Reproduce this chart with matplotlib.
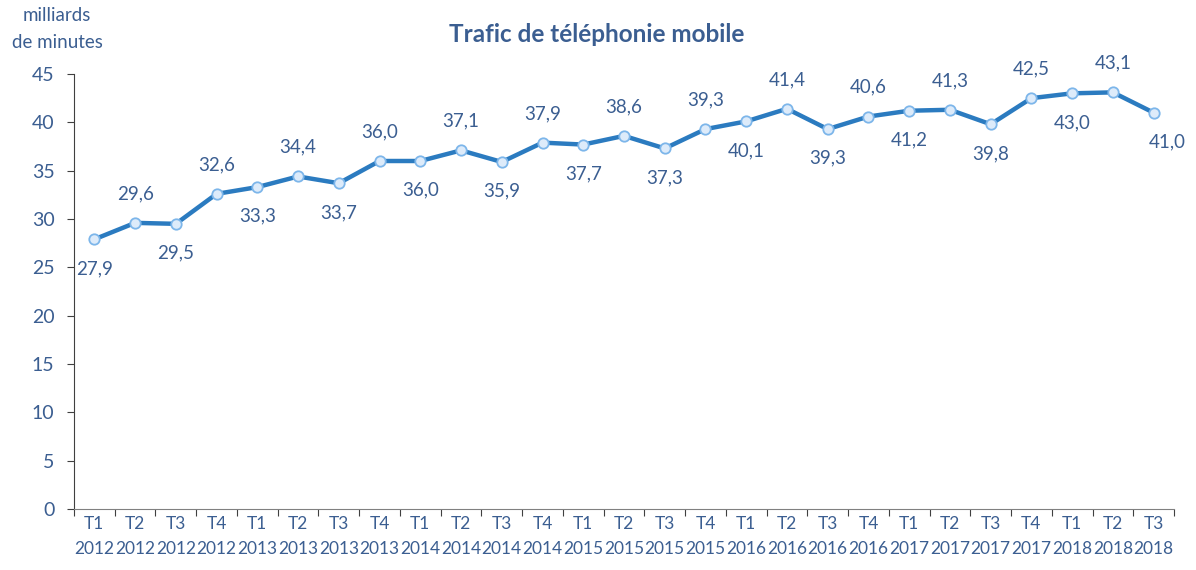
import matplotlib.pyplot as plt

plt.rcParams['font.family'] = ['Lato', 'DejaVu Sans']

# Données : trafic trimestriel (milliards de minutes)
quarters = ['T1', 'T2', 'T3', 'T4'] * 6 + ['T1', 'T2', 'T3']
years = ['2012'] * 4 + ['2013'] * 4 + ['2014'] * 4 + ['2015'] * 4 + ['2016'] * 4 + ['2017'] * 4 + ['2018'] * 3
values = [27.9, 29.6, 29.5, 32.6, 33.3, 34.4, 33.7, 36.0, 36.0, 37.1, 35.9, 37.9,
          37.7, 38.6, 37.3, 39.3, 40.1, 41.4, 39.3, 40.6, 41.2, 41.3, 39.8, 42.5,
          43.0, 43.1, 41.0]
# position des étiquettes : 1 = au-dessus, -1 = en dessous
label_side = [-1, 1, -1, 1, -1, 1, -1, 1, -1, 1, -1, 1, -1, 1, -1, 1, -1, 1, -1, 1,
              -1, 1, -1, 1, -1, 1, -1]

text_col = '#3B5E91'
line_col = '#2B7BC0'

fig = plt.figure(figsize=(11.96, 5.70), dpi=100)
ax = fig.add_axes([74 / 1196, 1 - 509 / 570, 1100 / 1196, 435 / 570])

x = list(range(len(values)))
ax.plot(x, values, color=line_col, lw=3.2, marker='o', ms=7.5,
        mfc='#DDEBFA', mec='#7DB6EA', mew=1.3, zorder=3)

for xi, v, s in zip(x, values, label_side):
    dx = 10 if xi == len(values) - 1 else 0
    ax.annotate(f'{v:.1f}'.replace('.', ','), (xi, v), xytext=(dx, 21 * s),
                textcoords='offset points', ha='center', va='center',
                fontsize=13.5, color=text_col)

ax.set_xlim(-0.5, len(values) - 0.5)
ax.set_ylim(0, 45)
ax.set_yticks(range(0, 46, 5))
ax.tick_params(axis='y', labelsize=14, labelcolor=text_col, length=5,
               color='#404040', pad=9)

ax.set_xticks([i - 0.5 for i in range(len(values) + 1)])
ax.set_xticklabels([])
ax.tick_params(axis='x', which='major', length=5, color='#404040')
ax.set_xticks(x, minor=True)
ax.set_xticklabels([f'{q}\n{y}' for q, y in zip(quarters, years)], minor=True,
                   linespacing=1.7)
ax.tick_params(axis='x', which='minor', length=0, pad=5, labelsize=12.5,
               labelcolor=text_col)

for side in ['top', 'right']:
    ax.spines[side].set_visible(False)
ax.spines['left'].set_color('#404040')
ax.spines['bottom'].set_color('#808080')

fig.text(597 / 1196, 1 - 35 / 570, 'Trafic de téléphonie mobile', ha='center',
         va='center', fontsize=17.5, fontweight='bold', color=text_col)
fig.text(57 / 1196, 1 - 29 / 570, 'milliards\nde minutes', ha='center', va='center',
         fontsize=13.5, color=text_col, linespacing=1.65)

fig.savefig('out.png', dpi=100)
